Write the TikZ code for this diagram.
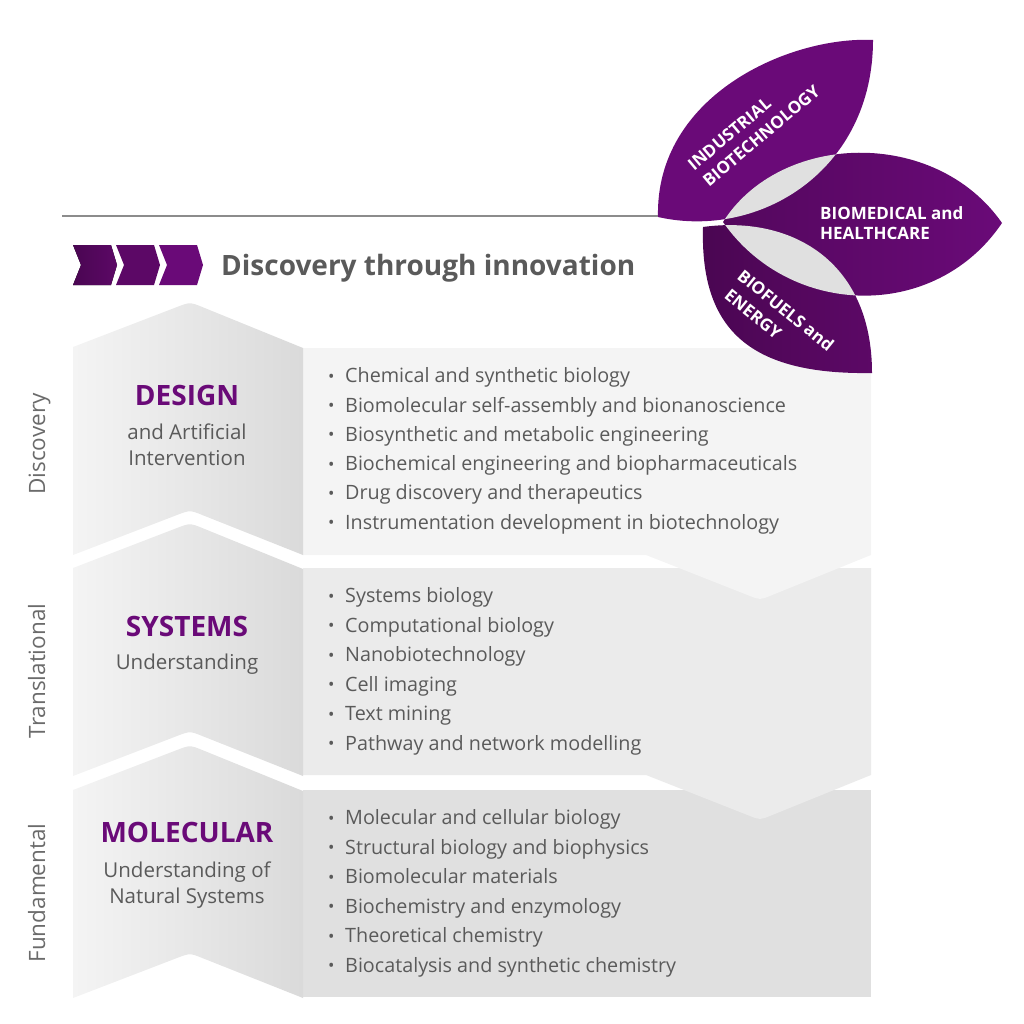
\documentclass[tikz,border=0pt]{standalone}
\usepackage{fontspec}
\setmainfont{Open Sans}
\definecolor{brandpurple}{HTML}{6A0A78}
\definecolor{deeppurple}{HTML}{4A0652}
\definecolor{midpurple}{HTML}{5C0866}
\definecolor{textgrey}{HTML}{5A5A5A}
\definecolor{labelgrey}{HTML}{6B6B6B}
\definecolor{rulegrey}{HTML}{8C8C8C}
\definecolor{overlapgrey}{HTML}{E0E0E0}
\definecolor{paneldesign}{HTML}{F4F4F4}
\definecolor{panelsystems}{HTML}{EBEBEB}
\definecolor{panelmolecular}{HTML}{E0E0E0}
\definecolor{paneledge}{HTML}{DADADA}
\usetikzlibrary{positioning}
\tikzstyle{bulletitem} = [anchor=base west, inner sep=0pt, font=\fontsize{19.75}{22}\selectfont, text=textgrey]
\tikzstyle{tierhead} = [anchor=base, inner sep=0pt, font=\fontsize{28}{30}\selectfont\bfseries, text=brandpurple]
\tikzstyle{tiersub} = [anchor=base, inner sep=0pt, font=\fontsize{20.5}{22}\selectfont, text=textgrey]
\tikzstyle{tierlabel} = [anchor=base, inner sep=0pt, rotate=90, font=\fontsize{22.5}{24}\selectfont, text=labelgrey]
\tikzstyle{leaflabel} = [inner sep=0pt, font=\fontsize{17}{20}\selectfont\bfseries, text=white]
\tikzstyle{heading} = [anchor=base west, inner sep=0pt, font=\fontsize{28}{30}\selectfont\bfseries, text=textgrey]
\tikzstyle{leftpanel} = [left color=paneldesign, right color=paneledge]
\newcommand{\bul}{\makebox[17pt][l]{\raisebox{0.5pt}{\fontsize{17}{17}\selectfont\textbullet}}}
\newcommand{\tiershape}{(73,-347) -- (177,-307) .. controls (190,-302) .. (203,-307.3) -- (303,-348) -- (303,-555) -- (203,-515.3) .. controls (190,-510) .. (177,-515) -- (73,-555) -- cycle}
\newcommand{\fieldshape}{(303,-348) -- (871,-348) -- (871,-555) -- (771,-595.5) .. controls (760,-600) .. (749,-595.6) -- (646,-555) -- (303,-555) -- cycle}
\newcommand{\chevshape}{(73,-245) -- (111,-245) -- (117,-265) -- (111,-285) -- (73,-285) -- (81,-265) -- cycle}
\newcommand{\indleaf}{(658,-217) .. controls (760,-240) and (873,-170) .. (873,-40) .. controls (790,-36) and (655,-95) .. (658,-217) -- cycle}
\newcommand{\medleaf}{(723,-222) .. controls (780,-132) and (935,-127) .. (1002,-223) .. controls (935,-322) and (790,-318) .. (723,-222) -- cycle}
\newcommand{\fuelleaf}{(703,-227) .. controls (790,-215) and (872,-260) .. (872,-373) .. controls (750,-375) and (700,-330) .. (703,-227) -- cycle}
\begin{document}
\begin{tikzpicture}[x=1pt, y=1pt]
    \useasboundingbox (0,0) rectangle (1024,-1024);

    % Right panels
    \fill[panelmolecular] (303,-790) rectangle (871,-997);
    \fill[panelsystems, yshift=-220pt] \fieldshape;
    \fill[paneldesign] \fieldshape;

    % Left panels
    \path[leftpanel] \tiershape;
    \path[leftpanel, yshift=-221pt] \tiershape;
    \path[leftpanel, yshift=-443pt] \tiershape;

    % Title bar
    \draw[rulegrey, line width=1.3pt] (62,-216) -- (660,-216);
    \fill[left color=deeppurple, right color=midpurple] \chevshape;
    \fill[midpurple, xshift=43pt] \chevshape;
    \fill[brandpurple, xshift=86pt] \chevshape;
    \node[heading] (title) at (221,-275) {Discovery through innovation};

    % Leaves
    \fill[brandpurple] \indleaf;
    \path[left color=deeppurple!70!brandpurple, right color=brandpurple] \medleaf;
    \path[left color=deeppurple, right color=midpurple] \fuelleaf;
    \begin{scope}
        \clip \indleaf;
        \fill[overlapgrey] \medleaf;
    \end{scope}
    \begin{scope}
        \clip \fuelleaf;
        \fill[overlapgrey] \medleaf;
    \end{scope}
    \node[leaflabel, rotate=40, anchor=west] (indtop) at (690,-167) {INDUSTRIAL};
    \node[leaflabel, rotate=40, anchor=west] (indbot) at (705,-183) {BIOTECHNOLOGY};
    \node[leaflabel, anchor=base west] (medtop) at (820,-220) {BIOMEDICAL and};
    \node[leaflabel, anchor=base west] (medbot) at (820,-239.5) {HEALTHCARE};
    \node[leaflabel, rotate=-39, anchor=west] (fueltop) at (740,-273) {BIOFUELS and};
    \node[leaflabel, rotate=-39, anchor=west] (fuelbot) at (727,-293) {ENERGY};

    % Side labels
    \node[tierlabel] (discovery) at (45,-444) {Discovery};
    \node[tierlabel] (translational) at (45,-671) {Translational};
    \node[tierlabel] (fundamental) at (45,-893) {Fundamental};

    % Design tier
    \node[tierhead] (design) at (187,-405) {DESIGN};
    \node[tiersub] (designsub) at (187,-439) {and Artificial};
    \node[tiersub] (designsubb) at (187,-465) {Intervention};
    \node[bulletitem] (dsg1) at (328,-382.7) {\bul Chemical and synthetic biology};
    \node[bulletitem] (dsg2) at (328,-412) {\bul Biomolecular self-assembly and bionanoscience};
    \node[bulletitem] (dsg3) at (328,-441.3) {\bul Biosynthetic and metabolic engineering};
    \node[bulletitem] (dsg4) at (328,-470.6) {\bul Biochemical engineering and biopharmaceuticals};
    \node[bulletitem] (dsg5) at (328,-499.9) {\bul Drug discovery and therapeutics};
    \node[bulletitem] (dsg6) at (328,-529.2) {\bul Instrumentation development in biotechnology};

    % Systems tier
    \node[tierhead] (systems) at (187,-636) {SYSTEMS};
    \node[tiersub] (systemssub) at (187,-669) {Understanding};
    \node[bulletitem] (sys1) at (328,-602.5) {\bul Systems biology};
    \node[bulletitem] (sys2) at (328,-632) {\bul Computational biology};
    \node[bulletitem] (sys3) at (328,-661.5) {\bul Nanobiotechnology};
    \node[bulletitem] (sys4) at (328,-691) {\bul Cell imaging};
    \node[bulletitem] (sys5) at (328,-720.5) {\bul Text mining};
    \node[bulletitem] (sys6) at (328,-750) {\bul Pathway and network modelling};

    % Molecular tier
    \node[tierhead] (molecular) at (187,-842) {MOLECULAR};
    \node[tiersub] (molecularsub) at (187,-877) {Understanding of};
    \node[tiersub] (molecularsubb) at (187,-903) {Natural Systems};
    \node[bulletitem] (mol1) at (328,-824.5) {\bul Molecular and cellular biology};
    \node[bulletitem] (mol2) at (328,-854) {\bul Structural biology and biophysics};
    \node[bulletitem] (mol3) at (328,-883.5) {\bul Biomolecular materials};
    \node[bulletitem] (mol4) at (328,-913) {\bul Biochemistry and enzymology};
    \node[bulletitem] (mol5) at (328,-942.5) {\bul Theoretical chemistry};
    \node[bulletitem] (mol6) at (328,-972) {\bul Biocatalysis and synthetic chemistry};
\end{tikzpicture}
\end{document}
